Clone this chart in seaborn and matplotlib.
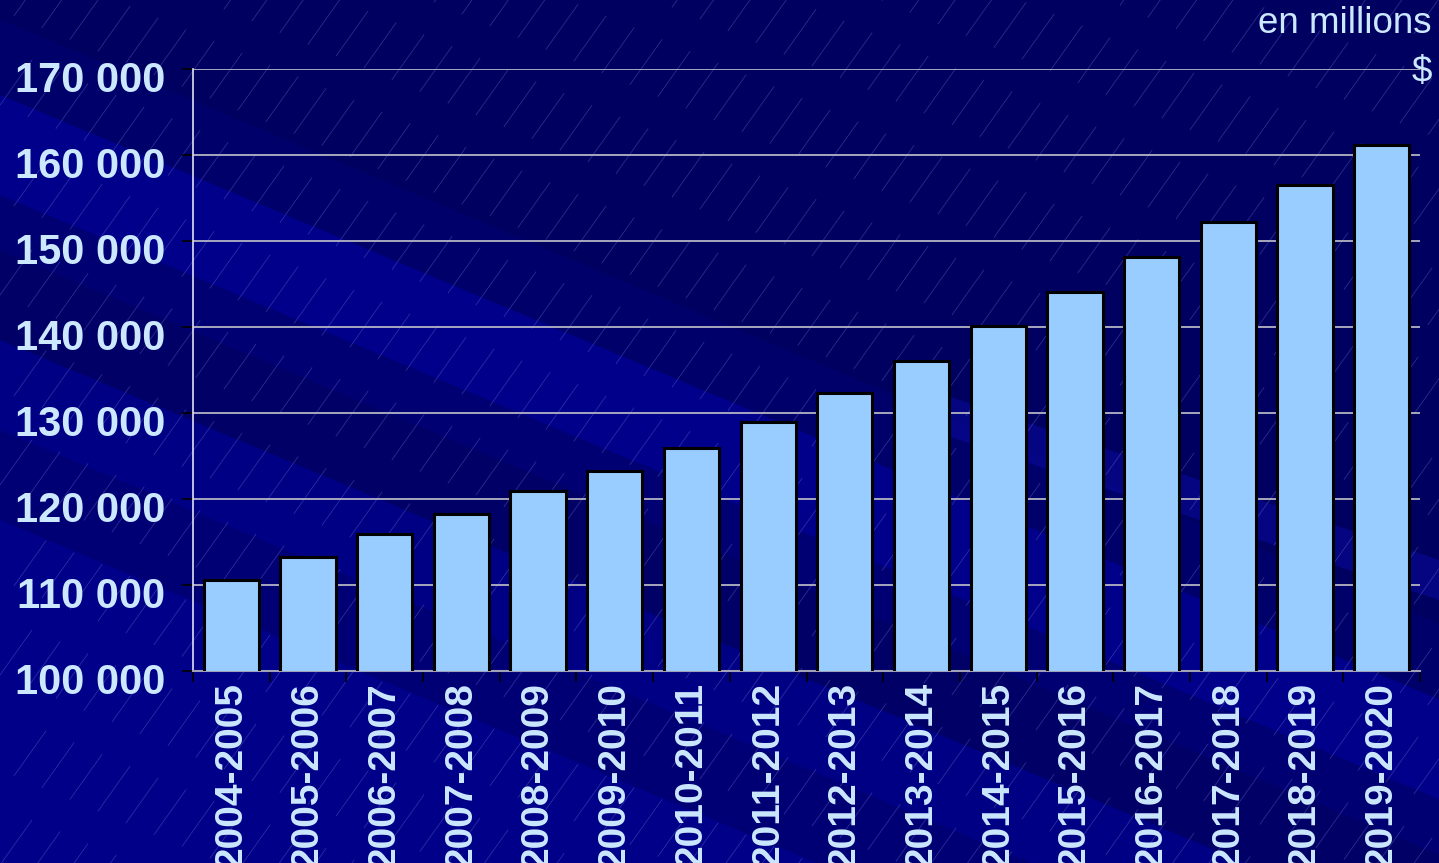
import numpy as np
import pandas as pd
import matplotlib
matplotlib.use("Agg")
import matplotlib.pyplot as plt
import matplotlib.transforms as mtrans
from matplotlib.patches import Polygon
from matplotlib.ticker import FixedLocator, FuncFormatter
import seaborn as sns

# ---- data ----
periods = ["2004-2005", "2005-2006", "2006-2007", "2007-2008", "2008-2009",
           "2009-2010", "2010-2011", "2011-2012", "2012-2013", "2013-2014",
           "2014-2015", "2015-2016", "2016-2017", "2017-2018", "2018-2019",
           "2019-2020"]
values = [110600, 113300, 115900, 118300, 120900, 123300, 125900, 129000,
          132300, 136000, 140100, 144100, 148100, 152200, 156500, 161200]
y_ticks = [100000, 110000, 120000, 130000, 140000, 150000, 160000, 170000]
unit_label = "en millions\n$"

sns.set_theme(style="white")
plt.rcParams['font.family'] = ['Liberation Sans', 'DejaVu Sans']

W, H = 1439, 863
fig = plt.figure(figsize=(W / 100, H / 100), dpi=100)
fig.patch.set_facecolor("#000080")

# ---- decorative background: sloping bands + thin streaks ----
bg = fig.add_axes([0, 0, 1, 1], zorder=-10)
bg.set_xlim(0, W)
bg.set_ylim(H, 0)
bg.axis("off")
slope = 0.42
stripes = [(-900, 20, "#000060"), (20, 95, "#00006A"), (95, 195, "#00008A"),
           (195, 250, "#000072"), (250, 340, "#000066"), (340, 430, "#000084"),
           (430, 520, "#000074"), (520, 1200, "#000088")]
for b0, b1, c in stripes:
    pts = [(0, b0), (W, b0 + slope * W), (W, b1 + slope * W), (0, b1)]
    bg.add_patch(Polygon(pts, closed=True, facecolor=c, edgecolor="none"))
bg.add_patch(Polygon([(900, 380), (W, 560), (W, 600), (900, 420)],
                     closed=True, facecolor="#0A0A9A", edgecolor="none", alpha=0.6))

for r, b in enumerate(range(-700, 900, 95)):
    for k in range(0, 60):
        x0 = k * 28 + (r % 2) * 14
        y0 = b + slope * x0
        if -60 < y0 < H + 60 and 0 <= x0 <= W:
            bg.plot([x0, x0 + 32], [y0 + 45, y0], color="#7070D0",
                    lw=0.6, alpha=0.4)

# ---- main chart ----
ax = fig.add_axes([193 / W, 1 - 671 / H, (1420 - 193) / W, (671 - 69) / H])
ax.set_facecolor("none")
df = pd.DataFrame({"period": periods, "value": values})
sns.barplot(data=df, x="period", y="value", ax=ax, color="#99CCFF",
            saturation=1, width=0.72, edgecolor="black", linewidth=2.2,
            zorder=3)
ax.set_ylim(100000, 170000)
ax.set_xlim(-0.5, len(periods) - 0.5)
ax.set_xlabel("")
ax.set_ylabel("")

ax.yaxis.set_major_locator(FixedLocator(y_ticks))
ax.yaxis.set_major_formatter(FuncFormatter(lambda v, p: f"{int(v):,}".replace(",", " ")))
ax.grid(axis="y", color="#B4B4C4", linewidth=1.3, zorder=0)
ax.set_axisbelow(True)

ax.tick_params(axis="y", which="major", length=8, width=1.2, color="black",
               labelsize=30, labelcolor="#CCE8FF", pad=12, left=True)
shift = mtrans.ScaledTranslation(0, -7 / 100, fig.dpi_scale_trans)
for lbl in ax.get_yticklabels():
    lbl.set_fontweight("bold")
    lbl.set_transform(lbl.get_transform() + shift)

ax.xaxis.set_minor_locator(FixedLocator(np.arange(-0.5, len(periods), 1.0)))
ax.tick_params(axis="x", which="minor", length=8, width=1.2, color="black",
               bottom=True)
ax.tick_params(axis="x", which="major", length=0, labelsize=28,
               labelcolor="#CCE8FF", pad=8, labelrotation=90)
for lbl in ax.get_xticklabels():
    lbl.set_fontweight("bold")
    lbl.set_va("top")

for side in ["top", "right"]:
    ax.spines[side].set_visible(False)
ax.spines["left"].set_color("#E0E0F0")
ax.spines["left"].set_linewidth(1.2)
ax.spines["bottom"].set_color("#A0A0B8")
ax.spines["bottom"].set_linewidth(1.5)

fig.text(1432 / W, 1 - 6 / H, unit_label, ha="right", va="top",
         fontsize=26.5, color="#CCE8FF", linespacing=1.5)

fig.savefig("out.png", dpi=100, facecolor=fig.get_facecolor())
